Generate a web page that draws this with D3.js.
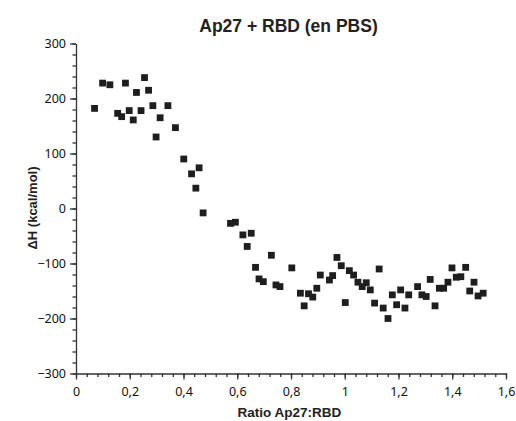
<!DOCTYPE html>
<html>
<head>
<meta charset="utf-8">
<script src="https://cdn.jsdelivr.net/npm/d3@7"></script>
<style>
  body { margin: 0; background: #fff; }
  .tick text { font-family: "Noto Sans", sans-serif; font-size: 12.5px; fill: #111; }
  .lbl { font-family: "Liberation Sans", Arial, sans-serif; font-weight: bold; fill: #222; }
</style>
</head>
<body>
<script>
// set the dimensions and margins of the graph
var margin = {top: 43.5, right: 10, bottom: 47.5, left: 76},
    width = 516 - margin.left - margin.right,
    height = 421 - margin.top - margin.bottom;

// data: molar ratio and heat (kcal/mol)
var ratio = [0.069, 0.099, 0.126, 0.155, 0.170, 0.184, 0.198, 0.213, 0.225, 0.242,
             0.255, 0.270, 0.286, 0.298, 0.313, 0.342, 0.370, 0.401, 0.430, 0.446,
             0.458, 0.473, 0.575, 0.593, 0.621, 0.637, 0.652, 0.668, 0.681, 0.697,
             0.727, 0.744, 0.759, 0.803, 0.835, 0.849, 0.865, 0.881, 0.896, 0.909,
             0.943, 0.955, 0.971, 0.987, 1.002, 1.017, 1.033, 1.049, 1.065, 1.080,
             1.095, 1.111, 1.128, 1.143, 1.161, 1.177, 1.193, 1.208, 1.224, 1.238,
             1.271, 1.287, 1.303, 1.318, 1.336, 1.352, 1.368, 1.384, 1.399, 1.415,
             1.432, 1.450, 1.465, 1.481, 1.496, 1.515];
var heat = [182, 228, 225, 173, 167, 228, 178, 161, 211, 178,
            238, 215, 187, 130, 165, 187, 147, 90, 63, 37,
            74, -8, -27, -25, -48, -69, -45, -107, -128, -133,
            -85, -139, -142, -108, -154, -177, -155, -161, -145, -121,
            -130, -122, -89, -104, -171, -113, -121, -134, -142, -135,
            -148, -172, -110, -181, -200, -157, -175, -148, -181, -157,
            -142, -157, -160, -129, -177, -145, -145, -134, -108, -125,
            -124, -107, -150, -134, -159, -154];

var xMajor = [0, 0.2, 0.4, 0.6, 0.8, 1, 1.2, 1.4, 1.6];
var yMajor = [-300, -200, -100, 0, 100, 200, 300];

var x = d3.scaleLinear().domain([0, 1.6]).range([0, width]);
var y = d3.scaleLinear().domain([-300, 300]).range([height, 0]);

var fmt = function(d) {
    return String(+d.toFixed(1)).replace(".", ",").replace("-", "\u2212");
};

var svg = d3.select("body").append("svg")
    .attr("width", 516)
    .attr("height", 421)
  .append("g")
    .attr("transform", "translate(" + margin.left + "," + margin.top + ")");

// minor ticks first, then major axes on top
svg.append("g")
    .attr("transform", "translate(0," + height + ")")
    .call(d3.axisBottom(x).tickValues(d3.range(0, 1.6001, 0.04)).tickSize(3.5).tickFormat(""))
    .call(g => g.select(".domain").remove());
svg.append("g")
    .call(d3.axisLeft(y).tickValues(d3.range(-300, 300.1, 20)).tickSize(3.5).tickFormat(""))
    .call(g => g.select(".domain").remove());

var xAxis = svg.append("g")
    .attr("transform", "translate(0," + height + ")")
    .call(d3.axisBottom(x).tickValues(xMajor).tickSize(6).tickSizeOuter(0).tickPadding(8).tickFormat(fmt));
var yAxis = svg.append("g")
    .call(d3.axisLeft(y).tickValues(yMajor).tickSize(6).tickSizeOuter(0).tickPadding(4).tickFormat(fmt));

svg.selectAll(".domain, .tick line")
    .attr("stroke", "#333")
    .attr("stroke-width", 1.3);

// markers
svg.selectAll("rect.pt")
    .data(ratio)
    .enter()
    .append("rect")
    .attr("class", "pt")
    .attr("x", function(d) { return x(d) - 3.4; })
    .attr("y", function(d, i) { return y(heat[i]) - 3.4; })
    .attr("width", 6.8)
    .attr("height", 6.8)
    .attr("fill", "#1e1e1e");

// title and axis labels
svg.append("text")
    .attr("class", "lbl")
    .attr("x", 288.5 - margin.left)
    .attr("y", 32 - margin.top)
    .attr("text-anchor", "middle")
    .style("font-size", "17.5px")
    .text("Ap27 + RBD (en PBS)");

svg.append("text")
    .attr("class", "lbl")
    .attr("x", 289.5 - margin.left)
    .attr("y", 417 - margin.top)
    .attr("text-anchor", "middle")
    .style("font-size", "13.5px")
    .text("Ratio Ap27:RBD");

svg.append("text")
    .attr("class", "lbl")
    .attr("transform", "rotate(-90)")
    .attr("x", -(208 - margin.top))
    .attr("y", 37 - margin.left)
    .attr("text-anchor", "middle")
    .style("font-size", "13px")
    .text("\u0394H (kcal/mol)");
</script>
</body>
</html>
